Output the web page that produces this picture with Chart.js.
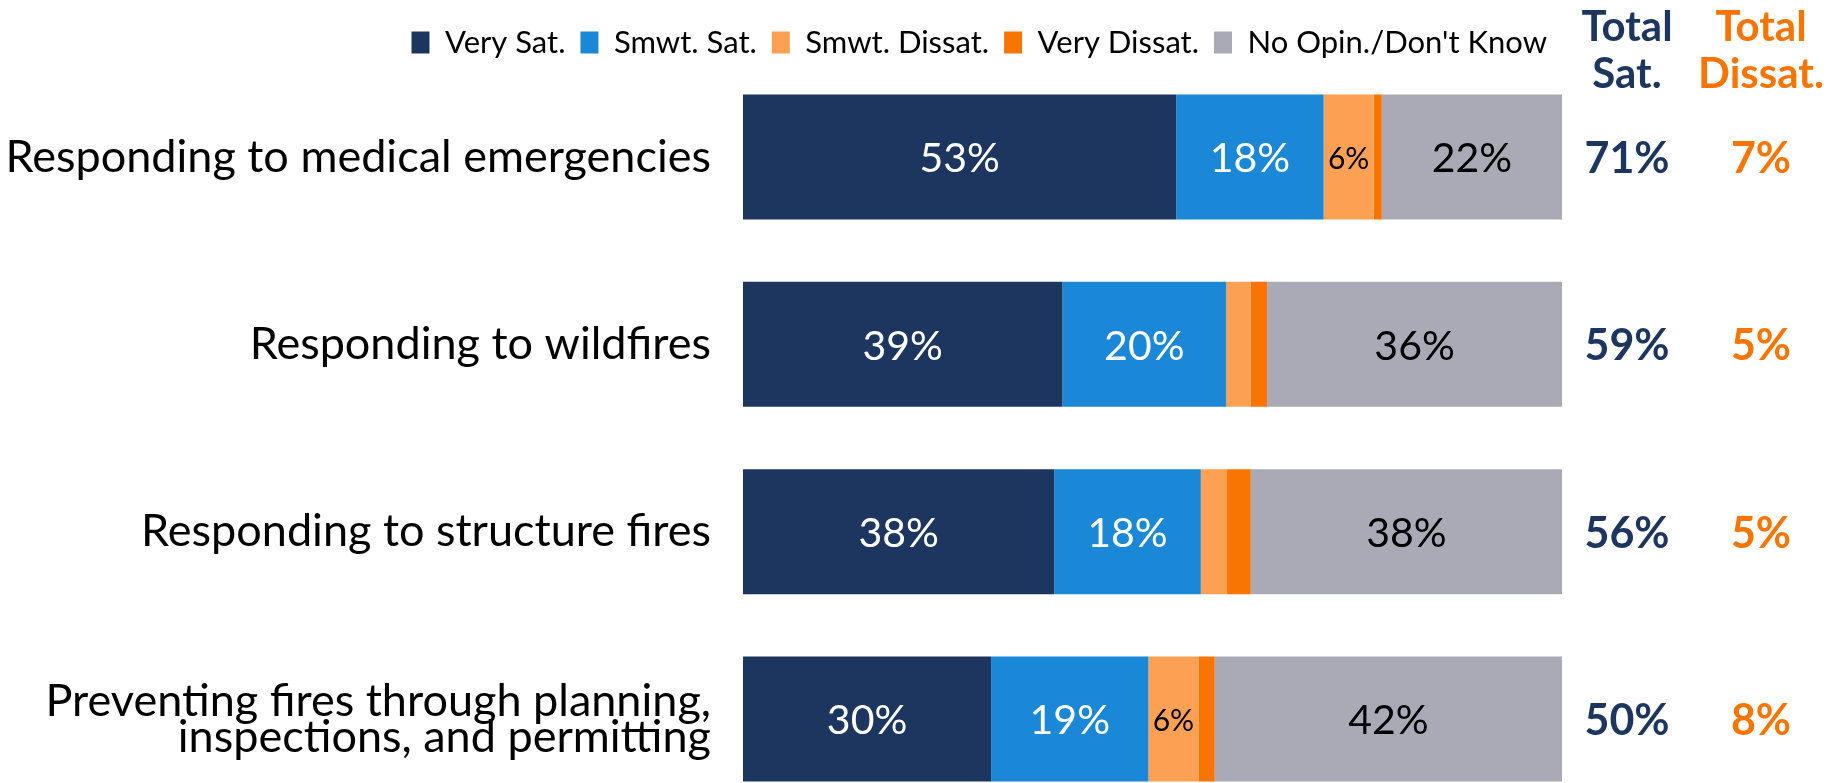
<!DOCTYPE html>
<html lang="en">
<head>
  <meta charset="UTF-8">
  <title>Satisfaction with fire department services</title>
  <script src="https://cdn.jsdelivr.net/npm/chart.js"></script>
  <style>
    html, body { margin: 0; padding: 0; background: #fff; overflow: hidden; }
    .chart-div { width: 1835px; height: 783px; }
  </style>
</head>
<body>
<div class="chart-div">
  <canvas id="myChart"></canvas>
</div>
<script>
  const labels = [
    'Responding to medical emergencies',
    'Responding to wildfires',
    'Responding to structure fires',
    ['Preventing fires through planning,', 'inspections, and permitting']
  ];
  const seriesNames = ['Very Sat.', 'Smwt. Sat.', 'Smwt. Dissat.', 'Very Dissat.', "No Opin./Don't Know"];
  const verySat = [52.9, 39.0, 38.0, 30.3];
  const smwtSat = [18.0, 20.0, 17.9, 19.2];
  const smwtDissat = [6.1, 3.0, 3.2, 6.1];
  const veryDissat = [1.0, 2.0, 2.9, 2.0];
  const noOpinion = [22.0, 36.0, 38.0, 42.4];
  const totalSat = [71, 59, 56, 50];
  const totalDissat = [7, 5, 5, 8];

  const FONT = 'Lato, "Open Sans", sans-serif';
  const colors = ['#1c365f', '#1a88d7', '#fca153', '#f97503', '#a9aab6'];
  const NAVY = '#1c365f';
  const ORANGE = '#f97503';

  // text inside the segments: [show if value >= , font size, colour]
  const segLabel = [
    [10, 41, '#ffffff'],
    [10, 41, '#ffffff'],
    [5, 30, '#000000'],
    [101, 30, '#000000'],
    [10, 41, '#000000']
  ];

  const barLabels = {
    id: 'barLabels',
    afterDatasetsDraw(chart) {
      const ctx = chart.ctx;
      ctx.save();
      ctx.textAlign = 'center';
      ctx.textBaseline = 'middle';
      chart.data.datasets.forEach((ds, i) => {
        const meta = chart.getDatasetMeta(i);
        const [min, size, color] = segLabel[i];
        meta.data.forEach((bar, j) => {
          const v = ds.data[j];
          if (v < min) return;
          ctx.font = `${size}px ${FONT}`;
          ctx.fillStyle = color;
          ctx.fillText(Math.round(v) + '%', (bar.x + bar.base) / 2, bar.y + 2);
        });
      });

      // total columns on the right
      const right = chart.chartArea.right;
      const cols = [
        { x: right + 65, head: ['Total', 'Sat.'], vals: totalSat, color: NAVY },
        { x: right + 199, head: ['Total', 'Dissat.'], vals: totalDissat, color: ORANGE }
      ];
      const rows = chart.getDatasetMeta(0).data;
      cols.forEach(c => {
        ctx.fillStyle = c.color;
        ctx.font = `bold 42px ${FONT}`;
        ctx.fillText(c.head[0], c.x, 27);
        ctx.fillText(c.head[1], c.x, 74);
        ctx.font = `bold 43px ${FONT}`;
        rows.forEach((bar, j) => {
          ctx.fillText(c.vals[j] + '%', c.x, bar.y + 2);
        });
      });
      ctx.restore();
    }
  };

  const series = [verySat, smwtSat, smwtDissat, veryDissat, noOpinion];

  const ctx = document.getElementById('myChart').getContext('2d');
  const myChart = new Chart(ctx, {
    type: 'bar',
    data: {
      labels: labels,
      datasets: series.map((data, i) => ({
        label: seriesNames[i],
        data: data,
        backgroundColor: colors[i],
        borderWidth: 0,
        barPercentage: 0.667,
        categoryPercentage: 1,
        clip: false
      }))
    },
    options: {
      indexAxis: 'y',
      responsive: true,
      maintainAspectRatio: false,
      animation: false,
      layout: {
        padding: { top: 12, right: 273, bottom: 64, left: 0 }
      },
      plugins: {
        tooltip: { enabled: false },
        legend: {
          position: 'top',
          align: 'end',
          labels: {
            color: '#000',
            font: { family: FONT, size: 31 },
            boxWidth: 18,
            boxHeight: 22,
            padding: 15
          }
        }
      },
      scales: {
        x: {
          position: 'top',
          stacked: true,
          min: 0,
          max: 100,
          ticks: { display: false },
          grid: { display: false },
          border: { display: false },
          afterFit(scale) { scale.height = 89; }
        },
        y: {
          stacked: true,
          offset: false,
          grid: { display: false },
          border: { display: false },
          ticks: {
            color: '#000',
            padding: 24,
            font: { family: FONT, size: 45, lineHeight: 0.8 }
          },
          afterFit(scale) { scale.width = 743; }
        }
      }
    },
    plugins: [barLabels]
  });
</script>
</body>
</html>
